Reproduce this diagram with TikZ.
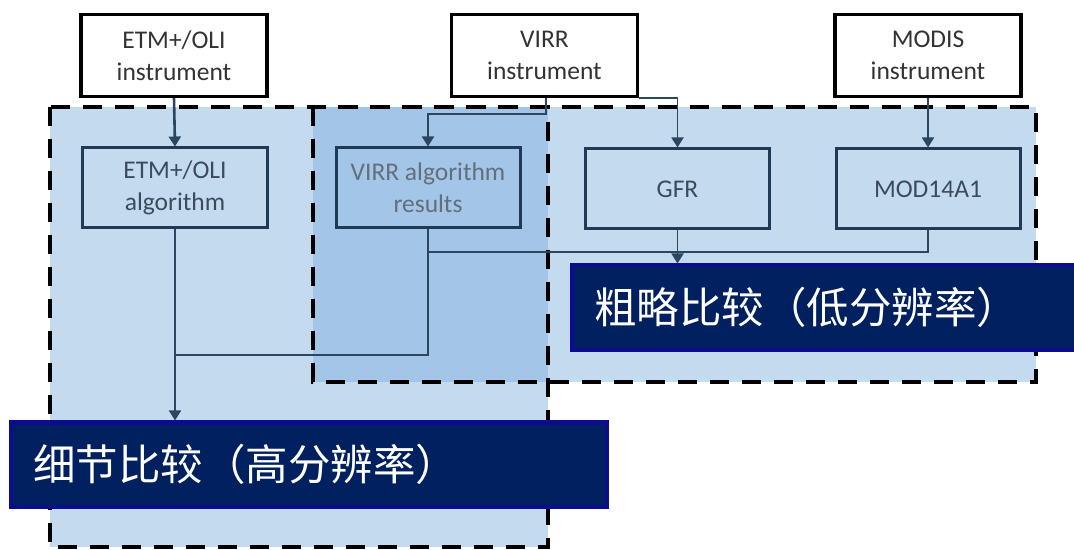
\documentclass[tikz,border=0pt]{standalone}
\usepackage{fontspec}
\setmainfont{Carlito}
\newfontfamily\cjk{Noto Sans CJK SC}
\usetikzlibrary{arrows.meta}
\definecolor{lightbg}{HTML}{C3DAEF}
\definecolor{overlapbg}{HTML}{A3C5E7}
\definecolor{boxline}{HTML}{1F3A54}
\definecolor{navyfill}{HTML}{002060}
\definecolor{navyline}{HTML}{0C0C8E}
\definecolor{toptext}{HTML}{333333}
\definecolor{midtext}{HTML}{3B4B5B}
\definecolor{connline}{HTML}{2B4660}
\tikzset{
  topbox/.style={draw=black, line width=3.2bp, fill=white, minimum width=186bp, minimum height=82bp,
    align=center, text=toptext, font=\fontsize{25.5bp}{32bp}\selectfont, inner sep=0pt},
  midbox/.style={draw=boxline, line width=3bp, minimum width=184bp, minimum height=80bp,
    align=center, text=midtext, font=\fontsize{25.5bp}{32bp}\selectfont, inner sep=0pt},
  region/.style={draw=black, line width=3.2bp, dash pattern=on 19bp off 13bp},
  labelbox/.style={draw=navyline, line width=4bp, fill=navyfill, text=white, anchor=west,
    minimum height=84bp, inner xsep=22bp, text width=480bp, align=left,
    font=\cjk\fontsize{42.5bp}{48bp}\selectfont},
  conn/.style={draw=connline, line width=1.8bp, -{Triangle[width=12bp,length=10bp]}},
  plainline/.style={draw=connline, line width=1.8bp}
}
\begin{document}
\begin{tikzpicture}[x=1bp,y=-1bp]
\useasboundingbox (0,0) rectangle (1074,550);
% regions
\fill[lightbg] (50,107) rectangle (548,547);
\fill[lightbg] (313,107) rectangle (1036,382);
\fill[overlapbg] (313,107) rectangle (548,382);
\draw[region] (50,107) rectangle (548,547);
\draw[region] (313,107) rectangle (1036,382);
% top instruments
\node[topbox] (etmI) at (174,55.5) {ETM+/OLI\\instrument};
\node[topbox] (virrI) at (544.5,55.5) {VIRR\\instrument};
\node[topbox] (modisI) at (928,55.5) {MODIS\\instrument};
% algorithm boxes
\node[midbox, fill=lightbg] (etmA) at (175,188) {ETM+/OLI\\algorithm};
\node[midbox, fill=overlapbg, text=midtext!80] (virrA) at (428,188) {VIRR algorithm\\results};
\node[midbox, fill=lightbg] (gfr) at (677.5,189) {GFR};
\node[midbox, fill=lightbg] (mod) at (928,189) {MOD14A1};
% labels
\node[labelbox] (coarse) at (570,307.5) {粗略比较（低分辨率）};
\node[labelbox, text width=552bp] (fine) at (9,464.5) {细节比较（高分辨率）};
% connectors
\coordinate (v1) at (546,114);
\coordinate (j1) at (0,252);
\coordinate (j2) at (0,355);
\draw[conn, line width=2.6bp] (etmI.south) -- (etmA.north);
\draw[conn] (virrI.south -| v1) -- (v1) -| (virrA.north);
\draw[conn] (virrI.south east) -| (gfr.north);
\draw[conn] (modisI.south) -- (mod.north);
\draw[plainline] (mod.south) |- (virrA.south |- j1);
\draw[conn] (gfr.south) -- (gfr.south |- coarse.north);
\draw[plainline, line width=2.6bp] (virrA.south) |- (etmA.south |- j2);
\draw[conn] (etmA.south) -- (etmA.south |- fine.north);
\end{tikzpicture}
\end{document}
